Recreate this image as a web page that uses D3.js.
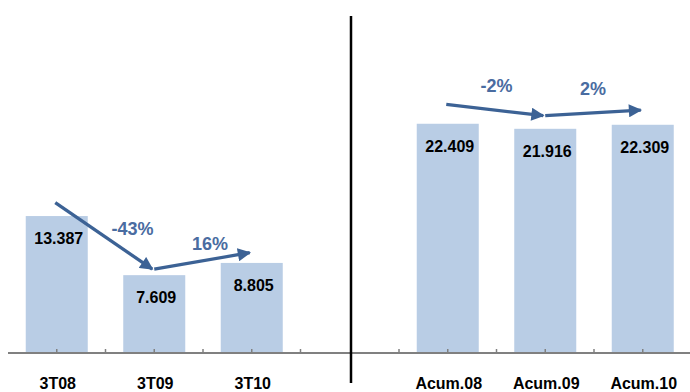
<!DOCTYPE html>
<html>
<head>
<meta charset="utf-8">
<script src="https://cdn.jsdelivr.net/npm/d3@7"></script>
<style>
  html, body { margin: 0; padding: 0; background: #fff; }
  svg { display: block; }
  text { font-family: "Liberation Sans", Arial, sans-serif; font-weight: bold; }
</style>
</head>
<body>
<div id="chart"></div>
<script>
// quarterly (left) and year-to-date (right) panels
const quarterCats = ["3T08", "3T09", "3T10"];
const quarterVals = [13387, 7609, 8805];
const quarterTrend = [14700, 8200, 9800];
const quarterPct = ["-43%", "16%"];

const accumCats = ["Acum.08", "Acum.09", "Acum.10"];
const accumVals = [22409, 21916, 22309];
const accumTrend = [24300, 23200, 23750];
const accumPct = ["-2%", "2%"];

const width = 690, height = 392;
const barColor = "#b9cde5";
const arrowColor = "#3c6295";
const pctColor = "#4a6ca1";

const svg = d3.select("#chart").append("svg")
  .attr("width", width)
  .attr("height", height);

svg.append("defs").append("marker")
  .attr("id", "head")
  .attr("viewBox", "0 0 10 10")
  .attr("refX", 9).attr("refY", 5)
  .attr("markerWidth", 4.2).attr("markerHeight", 4)
  .attr("markerUnits", "strokeWidth")
  .attr("orient", "auto")
  .append("path")
  .attr("d", "M0,0L10,5L0,10Z")
  .attr("fill", arrowColor);

// shared value scale
const y = d3.scaleLinear().domain([0, 25000]).range([353, 97.25]);

// label offsets for the percentage notes, relative to each segment's midpoint
const pctOffsets = {
  left: [[27, -1], [7, -11]],
  right: [[0, -18], [-1, -18]]
};

function panel(cats, vals, trend, pcts, bandStart, axisFrom, axisTo, offs) {
  const step = 97.5;
  const x = d3.scaleBand()
    .domain(cats)
    .range([bandStart, bandStart + step * cats.length])
    .paddingInner(0.364)
    .paddingOuter(0.182);

  const g = svg.append("g");

  g.selectAll("rect.bar")
    .data(cats)
    .enter()
    .append("rect")
    .attr("class", "bar")
    .attr("x", d => x(d))
    .attr("width", x.bandwidth())
    .attr("y", (d, i) => y(vals[i]))
    .attr("height", (d, i) => y(0) - y(vals[i]))
    .attr("fill", barColor);

  // axis line with small upward ticks at band edges and centres
  g.append("line")
    .attr("x1", axisFrom).attr("x2", axisTo)
    .attr("y1", y(0)).attr("y2", y(0))
    .attr("stroke", "#808080")
    .attr("stroke-width", 2);

  const tickX = [];
  cats.forEach(c => {
    tickX.push(x(c) - x.step() * x.paddingOuter());
    tickX.push(x(c) + x.bandwidth() / 2);
  });
  tickX.push(x(cats[cats.length - 1]) + x.bandwidth() + x.step() * x.paddingOuter());

  g.selectAll("line.tick")
    .data(tickX.filter(t => t > axisFrom + 2 && t < axisTo))
    .enter()
    .append("line")
    .attr("class", "tick")
    .attr("x1", d => d).attr("x2", d => d)
    .attr("y1", y(0)).attr("y2", y(0) - 4)
    .attr("stroke", "#808080")
    .attr("stroke-width", 1.5);

  g.selectAll("text.val")
    .data(vals)
    .enter()
    .append("text")
    .attr("class", "val")
    .attr("x", (d, i) => x(cats[i]) + x.bandwidth() / 2 + 2)
    .attr("y", d => y(d) + 28)
    .attr("text-anchor", "middle")
    .attr("font-size", 16)
    .attr("fill", "#000")
    .text(d => d3.format(",")(d).replace(",", "."));

  g.selectAll("text.cat")
    .data(cats)
    .enter()
    .append("text")
    .attr("class", "cat")
    .attr("x", d => x(d) + x.bandwidth() / 2 + 1)
    .attr("y", 389)
    .attr("text-anchor", "middle")
    .attr("font-size", 16)
    .attr("fill", "#000")
    .text(d => d);

  // trend arrows between consecutive categories
  const pts = cats.map((c, i) => [x(c) + x.bandwidth() / 2, y(trend[i])]);
  for (let i = 0; i < pts.length - 1; i++) {
    const a = pts[i], b = pts[i + 1];
    g.append("line")
      .attr("x1", a[0] - (i === 0 ? 1.5 : 0)).attr("y1", a[1])
      .attr("x2", b[0] - 2).attr("y2", b[1])
      .attr("stroke", arrowColor)
      .attr("stroke-width", 3.3)
      .attr("marker-end", "url(#head)");

    const mx = (a[0] + b[0]) / 2, my = (a[1] + b[1]) / 2;
    g.append("text")
      .attr("x", mx + offs[i][0])
      .attr("y", my + offs[i][1])
      .attr("text-anchor", "middle")
      .attr("font-size", 18)
      .attr("fill", pctColor)
      .text(pcts[i]);
  }
}

panel(quarterCats, quarterVals, quarterTrend, quarterPct, 8, 8, 350, pctOffsets.left);
panel(accumCats, accumVals, accumTrend, accumPct, 399, 350, 690, pctOffsets.right);

// divider between the two panels
svg.append("line")
  .attr("x1", 351).attr("x2", 351)
  .attr("y1", 16).attr("y2", 383)
  .attr("stroke", "#000")
  .attr("stroke-width", 2.5);
</script>
</body>
</html>
